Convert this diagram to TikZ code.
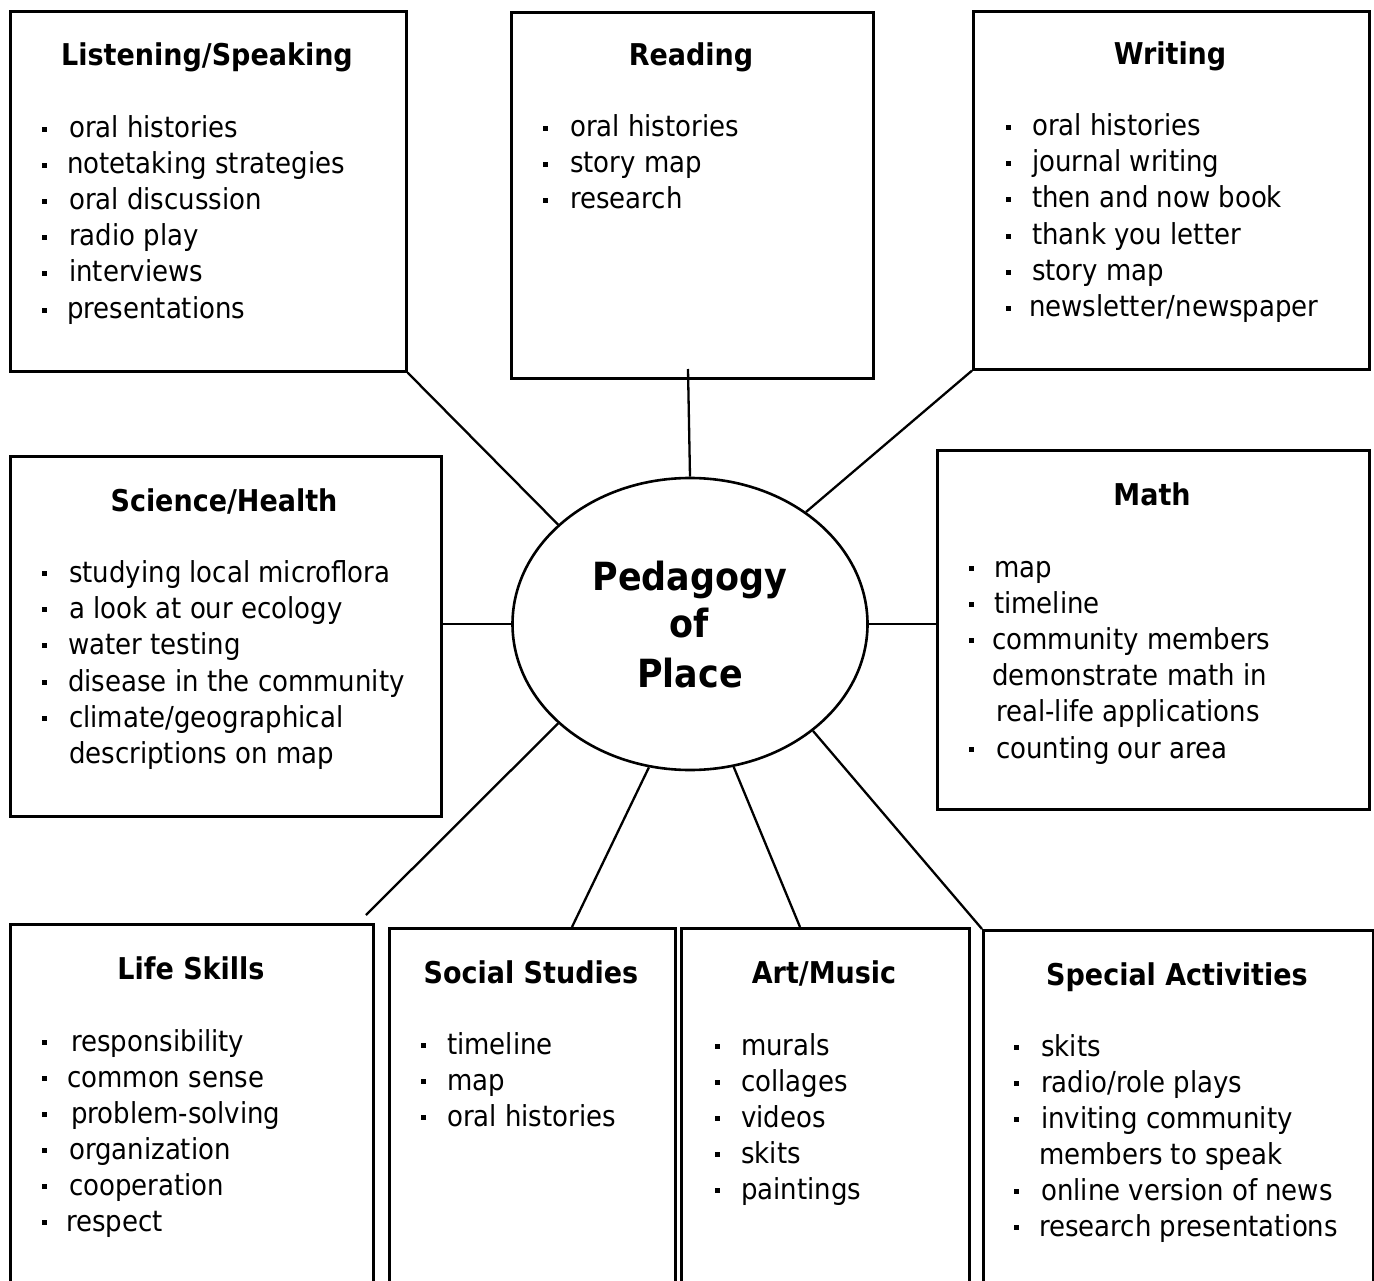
\documentclass[tikz,border=0pt]{standalone}
\usepackage{fontspec}
\setmainfont{DejaVu Sans Condensed}
\usetikzlibrary{shapes.geometric}
\tikzset{
  x=1pt, y=-1pt,
  box/.style={draw, line width=2.6pt, rectangle, inner sep=0pt, anchor=north west},
  conn/.style={line width=2.3pt},
  ttl/.style={font=\fontsize{30}{34}\selectfont\bfseries, anchor=base, inner sep=0pt},
  itm/.style={font=\fontsize{28.9}{34}\selectfont, anchor=base west, inner sep=0pt},
  bul/.style={fill=black, draw=none, minimum size=5pt, inner sep=0pt},
  ctr/.style={font=\fontsize{38.8}{44}\selectfont\bfseries, anchor=base, inner sep=0pt},
}
\newcommand\bitem[5]{%
  \node[bul] (#1b) at (#2+2.5, #4-8.5) {};
  \node[itm] (#1) at (#3,#4) {#5};}
\newcommand\citem[4]{\node[itm] (#1) at (#2,#3) {#4};}
\begin{document}
\begin{tikzpicture}
\useasboundingbox (0,0) rectangle (1374,1281);
\clip (0,0) rectangle (1374,1281);

% centre
\node[draw, ellipse, line width=2.6pt, minimum width=355pt, minimum height=292pt, inner sep=0pt] (ped) at (690,624) {};
\node[ctr] (pedA) at (690,590) {Pedagogy};
\node[ctr] (pedB) at (689,637) {of};
\node[ctr] (pedC) at (690,687) {Place};

% boxes
\node[box, minimum width=396pt, minimum height=360pt] (lis) at (9,10) {};
\node[box, minimum width=362pt, minimum height=366pt] (rea) at (510,11) {};
\node[box, minimum width=396pt, minimum height=358pt] (wri) at (972,10) {};
\node[box, minimum width=431pt, minimum height=360pt] (sci) at (9,455) {};
\node[box, minimum width=432pt, minimum height=359pt] (mat) at (936,449) {};
\node[box, minimum width=363pt, minimum height=400pt] (lif) at (9,923) {};
\node[box, minimum width=286pt, minimum height=400pt] (soc) at (388,927) {};
\node[box, minimum width=288pt, minimum height=400pt] (art) at (680,927) {};
\node[box, minimum width=390pt, minimum height=400pt] (spe) at (982,929) {};

% connectors
\coordinate (reac) at (688,369);
\coordinate (lifc) at (366,915);
\coordinate (socc) at (572,927);
\coordinate (artc) at (800,927);
\draw[conn] (lis.south east) -- (ped.143);
\draw[conn] (reac) -- (ped.north);
\draw[conn] (wri.south west) -- (ped.44);
\draw[conn] (sci.east |- ped.west) -- (ped.west);
\draw[conn] (mat.west |- ped.east) -- (ped.east);
\draw[conn] (lifc) -- (ped.217);
\draw[conn] (socc) -- (ped.254);
\draw[conn] (artc) -- (ped.287);
\draw[conn] (spe.north west) -- (ped.319);

% Listening/Speaking
\node[ttl] (lisT) at (207,66) {Listening/Speaking};
\bitem{lis1}{42}{69}{138}{oral histories}
\bitem{lis2}{42}{67}{174}{notetaking strategies}
\bitem{lis3}{42}{69}{210}{oral discussion}
\bitem{lis4}{42}{69}{246}{radio play}
\bitem{lis5}{42}{69}{282}{interviews}
\bitem{lis6}{42}{67}{319}{presentations}

% Reading
\node[ttl] (reaT) at (691,66) {Reading};
\bitem{rea1}{543}{570}{137}{oral histories}
\bitem{rea2}{543}{570}{173}{story map}
\bitem{rea3}{543}{570}{209}{research}

% Writing
\node[ttl] (wriT) at (1170,65) {Writing};
\bitem{wri1}{1006}{1032}{136}{oral histories}
\bitem{wri2}{1006}{1032}{172}{journal writing}
\bitem{wri3}{1006}{1032}{208}{then and now book}
\bitem{wri4}{1006}{1032}{245}{thank you letter}
\bitem{wri5}{1006}{1032}{281}{story map}
\bitem{wri6}{1006}{1029}{317}{newsletter/newspaper}

% Science/Health
\node[ttl] (sciT) at (224,511) {Science/Health};
\bitem{sci1}{42}{69}{582}{studying local microflora}
\bitem{sci2}{42}{69}{618}{a look at our ecology}
\bitem{sci3}{42}{68}{654}{water testing}
\bitem{sci4}{42}{68}{691}{disease in the community}
\bitem{sci5}{42}{69}{727}{climate/geographical}
\citem{sci6}{69}{763}{descriptions on map}

% Math
\node[ttl] (matT) at (1152,505) {Math};
\bitem{mat1}{969}{994}{577}{map}
\bitem{mat2}{969}{994}{613}{timeline}
\bitem{mat3}{969}{992}{649}{community members}
\citem{mat4}{992}{685}{demonstrate math in}
\citem{mat5}{996}{721}{real-life applications}
\bitem{mat6}{969}{996}{758}{counting our area}

% Life Skills
\node[ttl] (lifT) at (191,979) {Life Skills};
\bitem{lif1}{42}{71}{1051}{responsibility}
\bitem{lif2}{42}{67}{1087}{common sense}
\bitem{lif3}{42}{71}{1123}{problem-solving}
\bitem{lif4}{42}{69}{1159}{organization}
\bitem{lif5}{42}{69}{1195}{cooperation}
\bitem{lif6}{42}{66}{1231}{respect}

% Social Studies
\node[ttl] (socT) at (531,983) {Social Studies};
\bitem{soc1}{421}{447}{1054}{timeline}
\bitem{soc2}{421}{447}{1090}{map}
\bitem{soc3}{421}{447}{1126}{oral histories}

% Art/Music
\node[ttl] (artT) at (824,983) {Art/Music};
\bitem{art1}{715}{741}{1055}{murals}
\bitem{art2}{715}{741}{1091}{collages}
\bitem{art3}{715}{741}{1127}{videos}
\bitem{art4}{715}{741}{1163}{skits}
\bitem{art5}{715}{741}{1199}{paintings}

% Special Activities
\node[ttl] (speT) at (1177,985) {Special Activities};
\bitem{spe1}{1014}{1041}{1056}{skits}
\bitem{spe2}{1014}{1041}{1092}{radio/role plays}
\bitem{spe3}{1014}{1041}{1128}{inviting community}
\citem{spe4}{1039}{1164}{members to speak}
\bitem{spe5}{1014}{1041}{1200}{online version of news}
\bitem{spe6}{1014}{1039}{1236}{research presentations}
\end{tikzpicture}
\end{document}
